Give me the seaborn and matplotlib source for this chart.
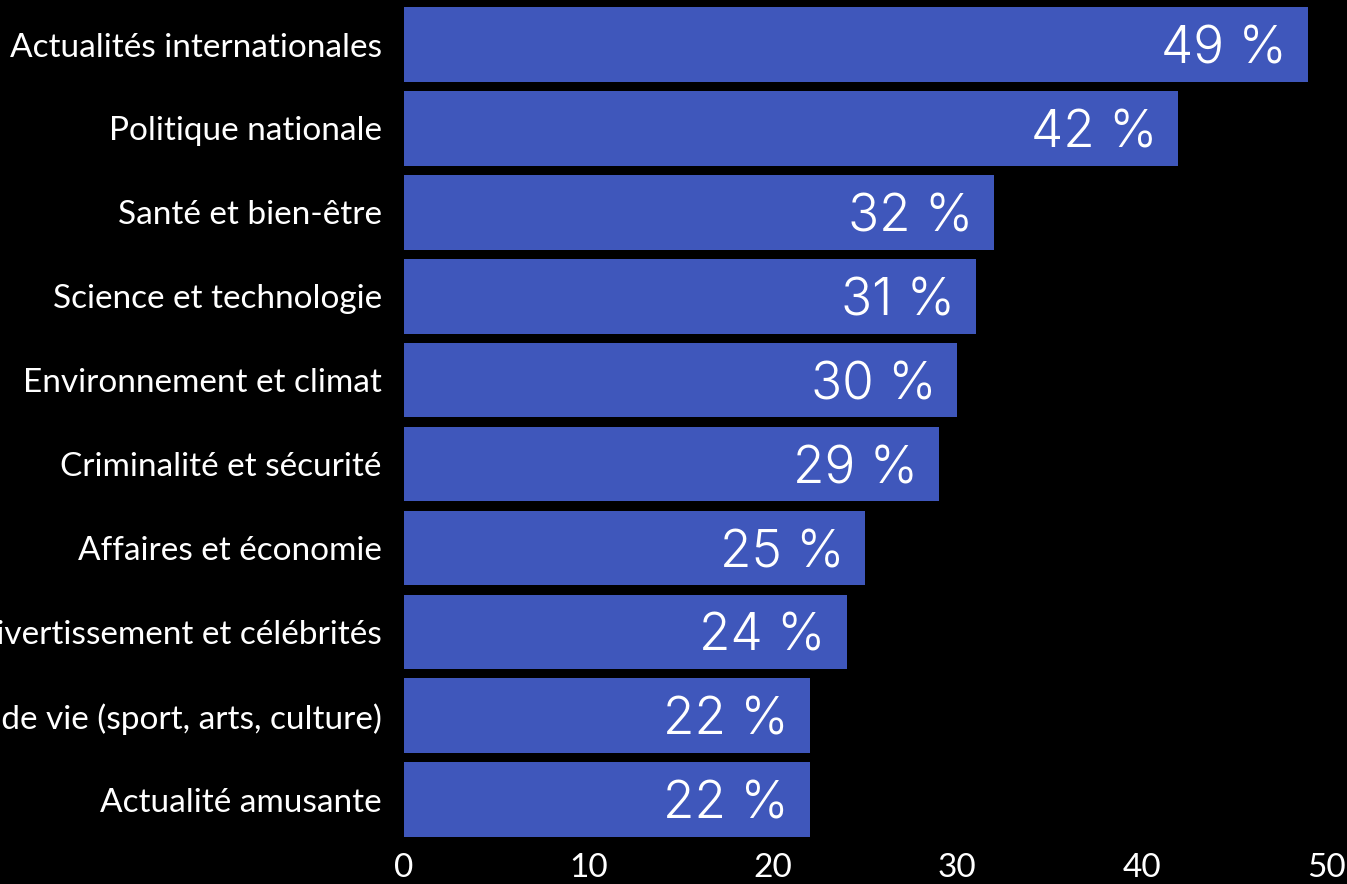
import matplotlib
matplotlib.use("Agg")
import matplotlib.pyplot as plt
import seaborn as sns
import pandas as pd

categories = [
    "Actualités internationales",
    "Politique nationale",
    "Santé et bien-être",
    "Science et technologie",
    "Environnement et climat",
    "Criminalité et sécurité",
    "Affaires et économie",
    "Divertissement et célébrités",
    "Style de vie (sport, arts, culture)",
    "Actualité amusante",
]
values = [49, 42, 32, 31, 30, 29, 25, 24, 22, 22]
xticks = [0, 10, 20, 30, 40, 50]

df = pd.DataFrame({"cat": categories, "val": values})

sns.set_theme(style="white")
plt.rcParams["font.family"] = ["Lato", "DejaVu Sans"]

fig = plt.figure(figsize=(13.47, 8.84), dpi=100, facecolor="black")
ax = fig.add_axes([0.2999, 0.048, 0.6845, 0.949])
ax.set_facecolor("black")

sns.barplot(data=df, x="val", y="cat", color="#3F57BB", saturation=1,
            width=0.89, ax=ax, orient="h", linewidth=0, edgecolor="none")

for i, v in enumerate(values):
    ax.annotate(f"{v} %", xy=(v, i), xytext=(-15, -4), textcoords="offset points",
                ha="right", va="center", color="white", fontsize=37,
                fontweight=300, family=["Inter", "DejaVu Sans"])

ax.set_xlim(0, 50)
ax.set_xticks(xticks)
ax.set_xticklabels([str(t) for t in xticks])
ax.set_ylim(len(categories) - 0.5, -0.5)
ax.set_xlabel("")
ax.set_ylabel("")
for s in ax.spines.values():
    s.set_visible(False)
ax.tick_params(axis="y", length=0, pad=16, labelsize=24, labelcolor="white")
ax.tick_params(axis="x", length=0, pad=8, labelsize=24, labelcolor="white")
ax.grid(False)

fig.savefig("out.png", dpi=100, facecolor="black")
